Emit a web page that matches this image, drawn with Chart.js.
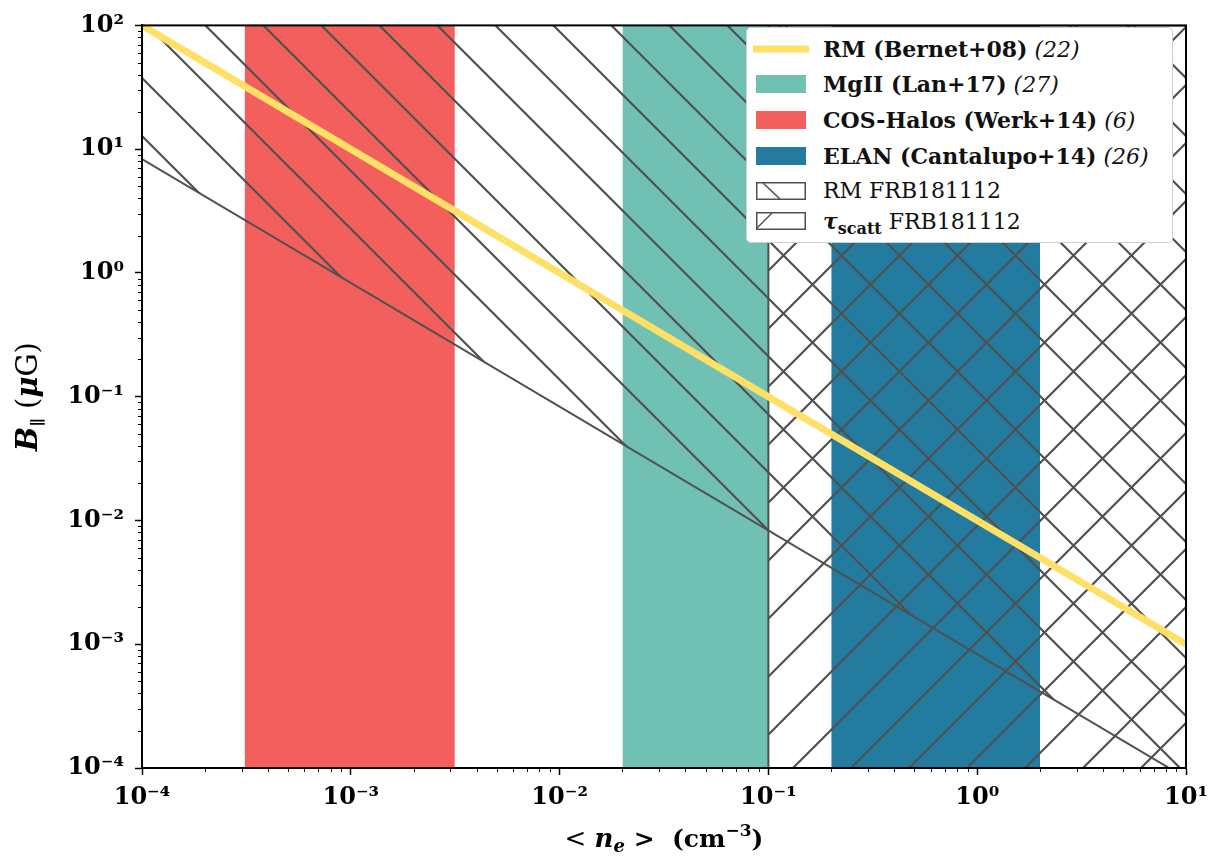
<!DOCTYPE html>
<html>
<head>
<meta charset="utf-8">
<script src="https://cdn.jsdelivr.net/npm/chart.js@4"></script>
<style>
  html, body { margin: 0; padding: 0; background: #fff; }
  #wrap { position: relative; width: 1222px; height: 859px; }
  #legend {
    position: absolute; left: 746px; top: 27px; width: 427px; height: 216px;
    box-sizing: border-box; background: #fff; border: 1.5px solid #cfcfcf; border-radius: 5px;
    font-family: "DejaVu Serif", serif; font-size: 22px; color: #111;
  }
  .row { position: absolute; left: 0; width: 100%; height: 28px; }
  .sw { position: absolute; top: 50%; transform: translateY(-50%); }
  .txt { position: absolute; left: 76px; top: 0; line-height: 28px; white-space: nowrap; }
  .txt b { font-weight: bold; }
  .txt i { font-style: italic; font-weight: normal; }
</style>
</head>
<body>
<div id="wrap">
  <canvas id="chart" width="1222" height="859"></canvas>
  <div id="legend"></div>
</div>
<script>
// axis limits and ticks
const X_MIN = 1e-4, X_MAX = 10;
const Y_MIN = 1e-4, Y_MAX = 100;
const xMajorTicks = [1e-4, 1e-3, 1e-2, 1e-1, 1e0, 1e1];
const yMajorTicks = [1e-4, 1e-3, 1e-2, 1e-1, 1e0, 1e1, 1e2];

// RM (Bernet+08) line
const bernetX = [1e-4, 10];
const bernetY = [100, 1e-3];

// density bands (cm^-3)
const mgiiRange = [0.02, 0.1];
const cosHalosRange = [3.1e-4, 3.15e-3];
const elanRange = [0.2, 2];

// FRB181112 constraints
const rmFrbX = [1e-4, 10];
const rmFrbLowY = [8.3, 8.3e-5];
const scattX = [0.1, 10];

const legendNames = ["RM (Bernet+08)", "MgII (Lan+17)", "COS-Halos (Werk+14)", "ELAN (Cantalupo+14)"];
const legendRefs = ["(22)", "(27)", "(6)", "(26)"];

const YELLOW = "#FFE066", TEAL = "#70C1B3", RED = "#F25F5C", BLUE = "#247BA0", GREY = "#50514F";
const HATCH_STEP = 58;
const SERIF = "'DejaVu Serif', serif";

function hatch(dir, phase) {
  const s = HATCH_STEP;
  const c = document.createElement("canvas");
  c.width = s; c.height = s;
  const g = c.getContext("2d");
  g.strokeStyle = GREY;
  g.lineWidth = 2.2;
  g.beginPath();
  for (const k of [-1, 0, 1]) {
    if (dir === "\\") { g.moveTo(-2, k * s - 2); g.lineTo(s + 2, s + k * s + 2); }
    else { g.moveTo(-2, s + k * s + 2); g.lineTo(s + 2, k * s - 2); }
  }
  g.stroke();
  const p = g.createPattern(c, "repeat");
  p.setTransform(new DOMMatrix().translate(0, phase));
  return p;
}

const isMajor = v => Math.abs(Math.log10(v) - Math.round(Math.log10(v))) < 1e-9;
const SUP = { "-": "\u207B", "0": "\u2070", "1": "\u00B9", "2": "\u00B2", "3": "\u00B3", "4": "\u2074", "5": "\u2075", "6": "\u2076", "7": "\u2077", "8": "\u2078", "9": "\u2079" };
const powLabel = v => "10" + String(Math.round(Math.log10(v))).split("").map(ch => SUP[ch]).join("");

function withMinors(majors) {
  const out = [];
  majors.forEach((m, i) => {
    out.push(m);
    if (i < majors.length - 1) for (let k = 2; k <= 9; k++) out.push(m * k);
  });
  return out;
}

const band = (label, range, color) => ({
  label, type: "line",
  data: [{ x: range[0], y: Y_MAX }, { x: range[1], y: Y_MAX }],
  backgroundColor: color, borderColor: color, borderWidth: 0,
  pointRadius: 0, fill: "start", order: 3, clip: 0
});

const datasets = [
  {
    label: legendNames[0], type: "line",
    data: bernetX.map((x, i) => ({ x, y: bernetY[i] })),
    borderColor: YELLOW, borderWidth: 7, pointRadius: 0, fill: false, order: 0, clip: 0
  },
  band(legendNames[1], mgiiRange, TEAL),
  band(legendNames[2], cosHalosRange, RED),
  band(legendNames[3], elanRange, BLUE),
  {
    label: "RM FRB181112", type: "line",
    data: rmFrbX.map((x, i) => ({ x, y: rmFrbLowY[i] })),
    backgroundColor: hatch("\\", 52), borderColor: GREY, borderWidth: 2,
    pointRadius: 0, fill: "end", order: 2, clip: 0
  },
  {
    label: "\u03C4scatt FRB181112", type: "line",
    data: [{ x: scattX[0], y: Y_MIN }, { x: scattX[0], y: Y_MAX }, { x: scattX[1], y: Y_MAX }],
    backgroundColor: hatch("/", 53), borderColor: GREY, borderWidth: 2,
    pointRadius: 0, fill: "start", order: 2, clip: 0
  }
];

function drawRich(ctx, parts, x, y) {
  let w = 0;
  parts.forEach(p => { ctx.font = p[1]; w += ctx.measureText(p[0]).width; });
  let cx = x - w / 2;
  parts.forEach(p => {
    ctx.font = p[1];
    ctx.fillText(p[0], cx, y + (p[2] || 0));
    cx += ctx.measureText(p[0]).width;
  });
}

const framePlugin = {
  id: "frame",
  afterDraw(chart) {
    const { ctx, chartArea: a, scales } = chart;
    ctx.save();
    ctx.strokeStyle = "#000";
    // minor ticks
    ctx.lineWidth = 1;
    ctx.beginPath();
    withMinors(xMajorTicks).filter(v => !isMajor(v)).forEach(v => {
      const px = Math.round(scales.x.getPixelForValue(v)) + 0.5;
      ctx.moveTo(px, a.bottom); ctx.lineTo(px, a.bottom + 4);
    });
    withMinors(yMajorTicks).filter(v => !isMajor(v)).forEach(v => {
      const py = Math.round(scales.y.getPixelForValue(v)) + 0.5;
      ctx.moveTo(a.left - 4, py); ctx.lineTo(a.left, py);
    });
    ctx.stroke();
    // spines
    ctx.lineWidth = 2;
    ctx.strokeRect(a.left, a.top, a.right - a.left, a.bottom - a.top);
    // axis titles
    ctx.fillStyle = "#000";
    ctx.textBaseline = "alphabetic";
    drawRich(ctx, [
      ["< ", "26px " + SERIF],
      ["n", "italic bold 26px " + SERIF],
      ["e", "italic bold 18px " + SERIF, 5],
      [" >  (cm", "bold 25px " + SERIF],
      ["\u22123", "bold 17px " + SERIF, -11],
      [")", "bold 25px " + SERIF]
    ], (a.left + a.right) / 2, 847);
    ctx.translate(37, (a.top + a.bottom) / 2);
    ctx.rotate(-Math.PI / 2);
    drawRich(ctx, [
      ["B", "italic bold 29px " + SERIF],
      ["\u2225", "bold 16px " + SERIF, 6],
      [" (", "29px " + SERIF],
      ["\u03BC", "italic bold 29px " + SERIF],
      ["G)", "29px " + SERIF]
    ], 0, 0);
    ctx.restore();
  }
};

const tickFont = { family: SERIF, size: 24, weight: "bold" };

new Chart(document.getElementById("chart"), {
  type: "line",
  data: { datasets },
  options: {
    responsive: false,
    animation: false,
    layout: { padding: { left: 0, top: 15, right: 36, bottom: 0 } },
    plugins: { legend: { display: false }, tooltip: { enabled: false } },
    scales: {
      x: {
        type: "logarithmic", position: "bottom", min: X_MIN, max: X_MAX,
        afterBuildTicks: s => { s.ticks = withMinors(xMajorTicks).map(v => ({ value: v, major: isMajor(v) })); },
        afterFit: s => { s.height = 91; },
        ticks: { autoSkip: false, maxRotation: 0, padding: 8, color: "#000", font: tickFont,
          callback: v => isMajor(v) ? powLabel(v) : "" },
        grid: { drawOnChartArea: false, tickLength: 7, tickWidth: 1.5,
          tickColor: c => (c.tick && isMajor(c.tick.value)) ? "#000" : "rgba(0,0,0,0)" },
        border: { display: true, color: "#000", width: 2 }
      },
      y: {
        type: "logarithmic", position: "left", min: Y_MIN, max: Y_MAX,
        afterBuildTicks: s => { s.ticks = withMinors(yMajorTicks).map(v => ({ value: v, major: isMajor(v) })); },
        afterFit: s => { s.width = 142; },
        ticks: { autoSkip: false, padding: 11, color: "#000", font: tickFont,
          callback: v => isMajor(v) ? powLabel(v) : "" },
        grid: { drawOnChartArea: false, tickLength: 7, tickWidth: 1.5,
          tickColor: c => (c.tick && isMajor(c.tick.value)) ? "#000" : "rgba(0,0,0,0)" },
        border: { display: true, color: "#000", width: 2 }
      }
    }
  },
  plugins: [framePlugin]
});

// legend (mixed bold / italic text)
const legendRows = [
  { center: 21, swatch: `<div class="sw" style="left:6px;width:56px;height:7px;background:${YELLOW}"></div>`,
    html: `<b>${legendNames[0]}</b> <i>${legendRefs[0]}</i>` },
  { center: 56, swatch: `<div class="sw" style="left:9px;width:50px;height:18px;background:${TEAL}"></div>`,
    html: `<b>${legendNames[1]}</b> <i>${legendRefs[1]}</i>` },
  { center: 92, swatch: `<div class="sw" style="left:9px;width:50px;height:18px;background:${RED}"></div>`,
    html: `<b>${legendNames[2]}</b> <i>${legendRefs[2]}</i>` },
  { center: 128, swatch: `<div class="sw" style="left:9px;width:50px;height:18px;background:${BLUE}"></div>`,
    html: `<b>${legendNames[3]}</b> <i>${legendRefs[3]}</i>` },
  { center: 163, swatch: `<svg class="sw" style="left:9px" width="50" height="18"><rect x="0.75" y="0.75" width="48.5" height="16.5" fill="#fff" stroke="${GREY}" stroke-width="1.5"/><line x1="7" y1="1" x2="24" y2="17" stroke="${GREY}" stroke-width="1.5"/></svg>`,
    html: `RM FRB181112` },
  { center: 193, swatch: `<svg class="sw" style="left:9px" width="50" height="18"><rect x="0.75" y="0.75" width="48.5" height="16.5" fill="#fff" stroke="${GREY}" stroke-width="1.5"/><line x1="1" y1="16" x2="16" y2="1" stroke="${GREY}" stroke-width="1.5"/></svg>`,
    html: `<b><span style="font-style:italic">\u03C4</span><sub style="font-size:16px;line-height:0">scatt</sub></b> FRB181112` }
];
document.getElementById("legend").innerHTML = legendRows.map(r =>
  `<div class="row" style="top:${r.center - 14}px">${r.swatch}<div class="txt">${r.html}</div></div>`
).join("");
</script>
</body>
</html>
